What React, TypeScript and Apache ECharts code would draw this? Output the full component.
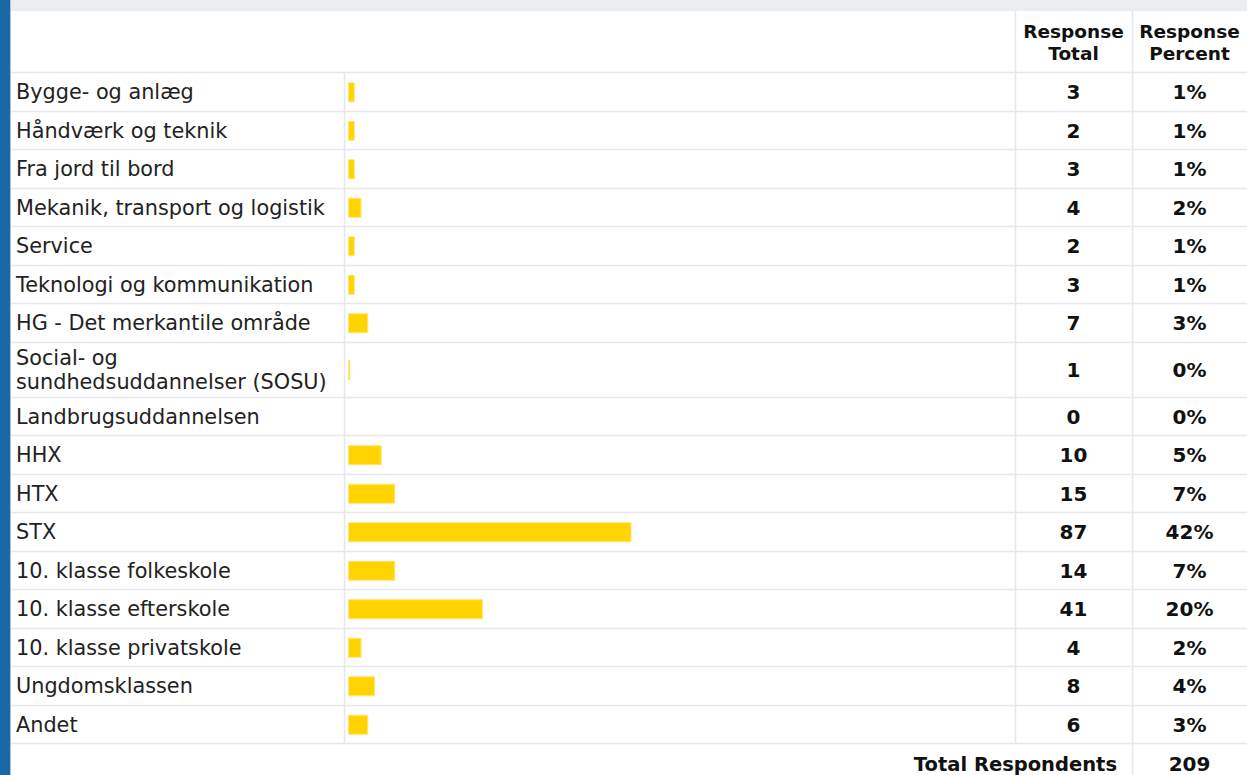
import React, { useEffect, useRef } from "react";
import * as echarts from "echarts";

const categories = [
  "Bygge- og anlæg",
  "Håndværk og teknik",
  "Fra jord til bord",
  "Mekanik, transport og logistik",
  "Service",
  "Teknologi og kommunikation",
  "HG - Det merkantile område",
  "Social- og\nsundhedsuddannelser (SOSU)",
  "Landbrugsuddannelsen",
  "HHX",
  "HTX",
  "STX",
  "10. klasse folkeskole",
  "10. klasse efterskole",
  "10. klasse privatskole",
  "Ungdomsklassen",
  "Andet",
];
const totals = [3, 2, 3, 4, 2, 3, 7, 1, 0, 10, 15, 87, 14, 41, 4, 8, 6];
const percents = [1, 1, 1, 2, 1, 1, 3, 0, 0, 5, 7, 42, 7, 20, 2, 4, 3];
// bar lengths as drawn (in percent)
const barPercent = [1, 1, 1, 2, 1, 1, 3, 0.35, 0, 5, 7, 42, 7, 20, 2, 4, 3];
const totalRespondents = 209;
const headerTotal = "Response\nTotal";
const headerPercent = "Response\nPercent";
const totalLabel = "Total Respondents";

const FONT = "DejaVu Sans";
const W = 1247;
const H = 775;
const ROW_H = 38.5;
const TALL_H = 55;
const HEADER_TOP = 11;
const HEADER_BOTTOM = 72;
const LABEL_X = 16;
const COL1 = 344;
const COL2 = 1015;
const COL3 = 1132;
const BAR_LEFT = 348;
const PX_PER_PCT = 6.75;
const LINE = "#e6e8ee";

export default function App() {
  const ref = useRef<HTMLDivElement>(null);
  useEffect(() => {
    if (!ref.current) return;
    const chart = echarts.init(ref.current, undefined, { renderer: "svg" });

    const segments = [
      { start: 0, end: 7, h: ROW_H },
      { start: 7, end: 8, h: TALL_H },
      { start: 8, end: 17, h: ROW_H },
    ];
    let top = HEADER_BOTTOM;
    const segTops: number[] = [];
    segments.forEach((s) => {
      segTops.push(top);
      top += (s.end - s.start) * s.h;
    });
    const tableBottom = top;

    const gridWidth = 100 * PX_PER_PCT;
    const gridRight = BAR_LEFT + gridWidth;
    const grid: any[] = [];
    const xAxis: any[] = [];
    const yAxis: any[] = [];
    const series: any[] = [];

    segments.forEach((s, gi) => {
      const cats = categories.slice(s.start, s.end);
      grid.push({
        left: BAR_LEFT,
        width: gridWidth,
        top: segTops[gi] + 1,
        height: (s.end - s.start) * s.h,
        containLabel: false,
      });
      xAxis.push({
        type: "value",
        gridIndex: gi,
        min: 0,
        max: 100,
        show: false,
      });
      const base = {
        type: "category",
        gridIndex: gi,
        inverse: true,
        data: cats,
        axisLine: { show: false },
        axisTick: { show: false },
        splitLine: { show: false },
      };
      const yLeftIdx = yAxis.length;
      yAxis.push({
        ...base,
        position: "left",
        axisLabel: {
          align: "left",
          margin: BAR_LEFT - LABEL_X,
          fontFamily: FONT,
          fontSize: 20.8,
          lineHeight: 24,
          color: "#222",
          interval: 0,
        },
      });
      const totalCenter = (COL2 + COL3) / 2;
      yAxis.push({
        ...base,
        position: "right",
        offset: 0,
        axisLabel: {
          align: "center",
          margin: totalCenter - gridRight,
          fontFamily: FONT,
          fontWeight: "bold",
          fontSize: 20,
          color: "#111",
          interval: 0,
          formatter: (_v: string, i: number) => String(totals[s.start + i]),
        },
      });
      const pctCenter = (COL3 + W) / 2;
      yAxis.push({
        ...base,
        position: "right",
        offset: 100,
        axisLabel: {
          align: "center",
          margin: pctCenter - gridRight - 100,
          fontFamily: FONT,
          fontWeight: "bold",
          fontSize: 20,
          color: "#111",
          interval: 0,
          formatter: (_v: string, i: number) => percents[s.start + i] + "%",
        },
      });
      series.push({
        type: "bar",
        xAxisIndex: gi,
        yAxisIndex: yLeftIdx,
        data: barPercent
          .slice(s.start, s.end)
          .map((v) => (v > 0 ? v : { value: v, itemStyle: { borderWidth: 0, opacity: 0 } })),
        barWidth: 20,
        itemStyle: { color: "#ffd400", borderColor: "#ffe47a", borderWidth: 1 },
        silent: true,
      });
    });

    const graphics: any[] = [];
    graphics.push({ type: "rect", shape: { x: 0, y: 0, width: 10, height: H }, style: { fill: "#1868a6" }, z: 10 });
    graphics.push({ type: "rect", shape: { x: 10, y: 0, width: 1, height: H }, style: { fill: "#a9c7e0" }, z: 10 });
    graphics.push({ type: "rect", shape: { x: 11, y: 0, width: W - 11, height: HEADER_TOP }, style: { fill: "#ebedf1" }, z: 10 });

    // horizontal row lines
    const hLines: number[] = [HEADER_BOTTOM];
    let y = HEADER_BOTTOM;
    segments.forEach((s) => {
      for (let i = s.start; i < s.end; i++) {
        y += s.h;
        hLines.push(y);
      }
    });
    hLines.forEach((ly) => {
      const yy = Math.round(ly) + 0.5;
      graphics.push({
        type: "line",
        shape: { x1: 11, y1: yy, x2: W, y2: yy },
        style: { stroke: LINE, lineWidth: 1.5 },
      });
    });
    // vertical lines
    graphics.push({ type: "line", shape: { x1: COL1 + 0.5, y1: HEADER_BOTTOM, x2: COL1 + 0.5, y2: tableBottom }, style: { stroke: LINE, lineWidth: 1.5 } });
    graphics.push({ type: "line", shape: { x1: COL2 + 0.5, y1: HEADER_TOP, x2: COL2 + 0.5, y2: tableBottom }, style: { stroke: LINE, lineWidth: 1.5 } });
    graphics.push({ type: "line", shape: { x1: COL3 + 0.5, y1: HEADER_TOP, x2: COL3 + 0.5, y2: H }, style: { stroke: LINE, lineWidth: 1.5 } });

    const headerMid = (HEADER_TOP + HEADER_BOTTOM) / 2 + 1;
    const headStyle = {
      fontFamily: FONT,
      fontWeight: "bold",
      fontSize: 18.5,
      lineHeight: 22,
      fill: "#111",
      align: "center",
      verticalAlign: "middle",
    };
    graphics.push({ type: "text", x: (COL2 + COL3) / 2, y: headerMid, style: { ...headStyle, text: headerTotal } });
    graphics.push({ type: "text", x: (COL3 + W) / 2, y: headerMid, style: { ...headStyle, text: headerPercent } });
    const totalRowMid = tableBottom + 21;
    graphics.push({
      type: "text",
      x: COL3 - 15,
      y: totalRowMid,
      style: { ...headStyle, fontSize: 19.5, align: "right", text: totalLabel },
    });
    graphics.push({
      type: "text",
      x: (COL3 + W) / 2,
      y: totalRowMid,
      style: { ...headStyle, fontSize: 20, text: String(totalRespondents) },
    });

    chart.setOption({
      animation: false,
      backgroundColor: "#ffffff",
      grid,
      xAxis,
      yAxis,
      series,
      graphic: { elements: graphics },
    });
    return () => chart.dispose();
  }, []);
  return (
    <div
      ref={ref}
      style={{ position: "fixed", left: 0, top: 0, width: W, height: H }}
    />
  );
}
